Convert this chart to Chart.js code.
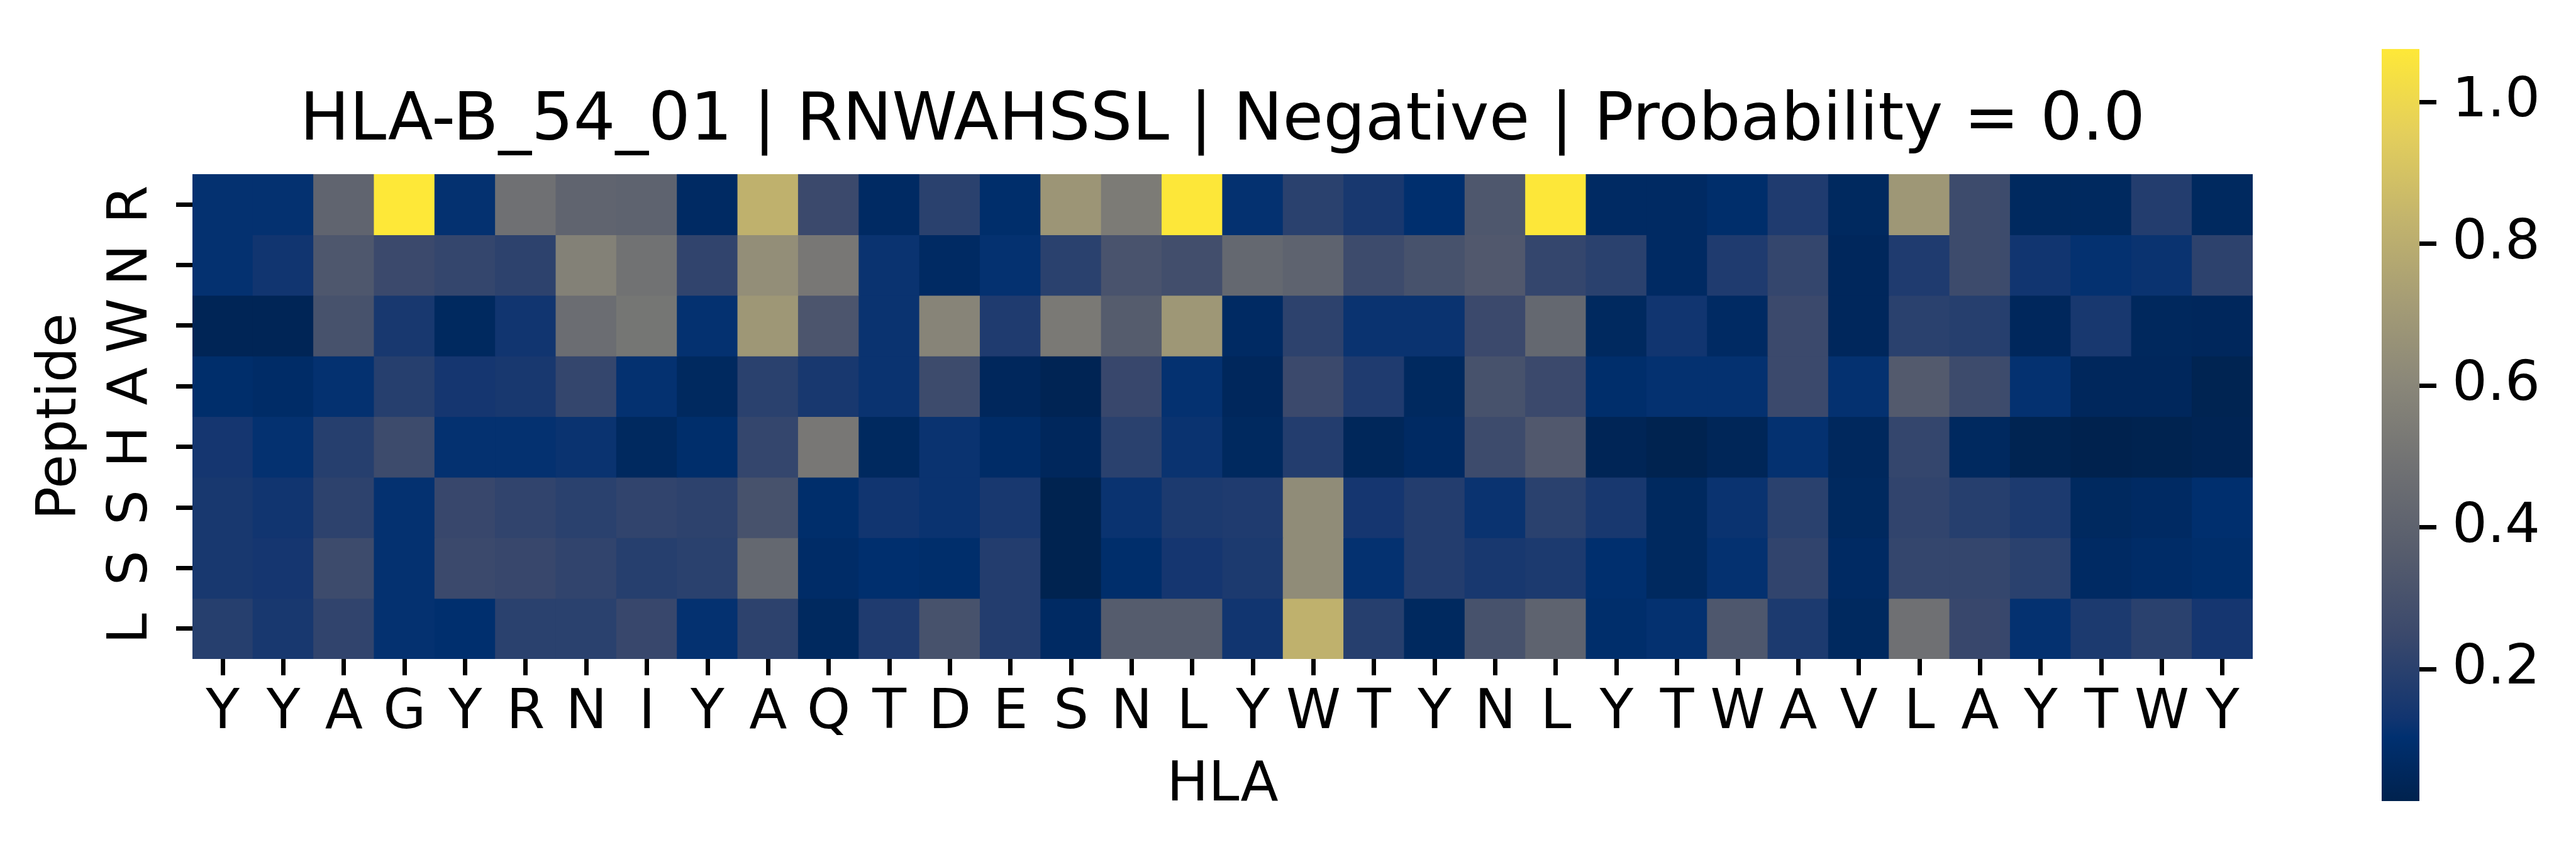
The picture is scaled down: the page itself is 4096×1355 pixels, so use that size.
<!DOCTYPE html>
<html>
<head>
<meta charset="utf-8">
<script src="https://cdn.jsdelivr.net/npm/chart.js@4.4.1/dist/chart.umd.min.js"></script>
<style>
  html, body { margin: 0; padding: 0; background: #fff; }
  #wrap { position: relative; width: 4096px; height: 1355px; overflow: hidden; }
  canvas { position: absolute; top: 0; }
  #heat { left: 0; }
  #cbar { left: 3787px; }
</style>
</head>
<body>
<div id="wrap">
  <canvas id="heat" width="4096" height="1355"></canvas>
  <canvas id="cbar" width="309" height="1355"></canvas>
</div>
<script>
const titleText = 'HLA-B_54_01 | RNWAHSSL | Negative | Probability = 0.0';

// x: HLA pseudo sequence, y: peptide
const hla = ['Y','Y','A','G','Y','R','N','I','Y','A','Q','T','D','E','S','N','L','Y','W','T','Y','N','L','Y','T','W','A','V','L','A','Y','T','W','Y'];
const peptide = ['R','N','W','A','H','S','S','L'];

// one array per peptide position (row), 34 values each
const rowR = [0.11,0.11,0.41,1.075,0.11,0.48,0.41,0.40,0.07, 0.82,0.25,0.07,0.20,0.09,0.68,0.54,1.07, 0.11,0.20,0.15,0.10,0.33,1.072,0.07,0.07,0.09, 0.17,0.06,0.69,0.26,0.06,0.06,0.18,0.06];
const rowN = [0.11,0.13,0.33,0.25,0.23,0.21,0.57,0.49,0.22, 0.64,0.52,0.12,0.07,0.11,0.20,0.31,0.28, 0.43,0.40,0.26,0.30,0.34,0.23,0.20,0.07,0.17, 0.23,0.05,0.17,0.26,0.13,0.11,0.12,0.21];
const rowW = [0.035,0.035,0.30,0.15,0.06,0.13,0.46,0.51,0.11, 0.69,0.32,0.12,0.59,0.17,0.53,0.36,0.69, 0.07,0.21,0.12,0.12,0.25,0.43,0.06,0.13,0.07, 0.25,0.05,0.20,0.19,0.05,0.15,0.055,0.05];
const rowA = [0.09,0.08,0.11,0.19,0.14,0.15,0.23,0.11,0.06, 0.20,0.15,0.12,0.26,0.05,0.03,0.24,0.11, 0.05,0.25,0.17,0.06,0.30,0.25,0.09,0.11,0.11, 0.25,0.11,0.35,0.26,0.11,0.05,0.05,0.025];
const rowH = [0.14,0.11,0.19,0.26,0.11,0.11,0.12,0.06,0.09, 0.23,0.52,0.06,0.12,0.08,0.05,0.20,0.12, 0.06,0.18,0.045,0.07,0.26,0.34,0.035,0.02,0.04, 0.11,0.055,0.23,0.06,0.025,0.014,0.02,0.03];
const rowS1 = [0.15,0.13,0.21,0.11,0.24,0.22,0.20,0.22,0.21, 0.30,0.09,0.13,0.12,0.15,0.02,0.12,0.16, 0.17,0.63,0.14,0.18,0.12,0.20,0.15,0.06,0.12, 0.20,0.06,0.22,0.19,0.16,0.06,0.07,0.10];
const rowS2 = [0.15,0.14,0.26,0.11,0.25,0.24,0.22,0.19,0.20, 0.43,0.08,0.10,0.09,0.18,0.02,0.09,0.14, 0.16,0.63,0.11,0.18,0.15,0.16,0.10,0.06,0.11, 0.22,0.07,0.23,0.23,0.20,0.07,0.08,0.09];
const rowL = [0.19,0.15,0.22,0.11,0.10,0.20,0.20,0.24,0.11, 0.21,0.06,0.17,0.30,0.18,0.07,0.36,0.36, 0.13,0.82,0.19,0.06,0.30,0.40,0.09,0.11,0.33, 0.16,0.06,0.48,0.24,0.11,0.16,0.20,0.14];

const colorbarTicks = [0.2, 0.4, 0.6, 0.8, 1.0];

const rows = [rowR, rowN, rowW, rowA, rowH, rowS1, rowS2, rowL];
const vmin = Math.min(...rows.flat());
const vmax = Math.max(...rows.flat());

// cividis colormap
const cividisStops = [
  [0.000, [0, 34, 78]],
  [0.045, [0, 41, 96]],
  [0.085, [0, 48, 112]],
  [0.111, [18, 53, 112]],
  [0.222, [59, 73, 108]],
  [0.333, [87, 93, 109]],
  [0.444, [112, 113, 115]],
  [0.556, [138, 135, 121]],
  [0.667, [166, 157, 117]],
  [0.778, [196, 181, 108]],
  [0.889, [228, 207, 91]],
  [1.000, [254, 232, 56]]
];

function cividis(t) {
  t = Math.max(0, Math.min(1, t));
  for (let i = 1; i < cividisStops.length; i++) {
    const [t1, c1] = cividisStops[i];
    if (t <= t1) {
      const [t0, c0] = cividisStops[i - 1];
      const f = (t - t0) / (t1 - t0);
      const c = c0.map((v, k) => Math.round(v + (c1[k] - v) * f));
      return `rgb(${c[0]},${c[1]},${c[2]})`;
    }
  }
  return 'rgb(254,232,56)';
}

const norm = v => (v - vmin) / (vmax - vmin);

Chart.defaults.font.family = 'DejaVu Sans';
Chart.defaults.color = '#000';
Chart.defaults.animation = false;

const tickFont = { size: 88 };

// heatmap: one floating bar dataset per row
new Chart(document.querySelector('#heat'), {
  type: 'bar',
  data: {
    labels: hla,
    datasets: rows.map((row, r) => ({
      label: peptide[r],
      data: row.map(() => [r, r + 1]),
      backgroundColor: row.map(v => cividis(norm(v))),
      borderWidth: 0,
      inflateAmount: 0.6,
      barPercentage: 1,
      categoryPercentage: 1,
      grouped: false
    }))
  },
  options: {
    responsive: false,
    layout: { padding: { left: 0, right: 514, top: 0, bottom: 0 } },
    plugins: {
      legend: { display: false },
      tooltip: { enabled: false },
      title: {
        display: true,
        text: titleText,
        fullSize: false,
        font: { size: 105, weight: 'normal' },
        padding: { top: 132, bottom: 19 }
      }
    },
    scales: {
      x: {
        type: 'category',
        border: { display: false },
        grid: { offset: false, drawOnChartArea: false, tickLength: 26, tickWidth: 7, tickColor: '#000' },
        ticks: { font: tickFont, padding: 8, autoSkip: false, maxRotation: 0 },
        title: { display: true, text: 'HLA', font: tickFont, padding: { top: 0, bottom: 52 } },
        afterFit: s => { s.height = 307; }
      },
      y: {
        type: 'linear',
        min: 0,
        max: peptide.length,
        reverse: true,
        border: { display: false },
        grid: { drawOnChartArea: false, tickLength: 26, tickWidth: 7, tickColor: '#000' },
        ticks: {
          font: tickFont, padding: 26, autoSkip: false,
          minRotation: 90, maxRotation: 90, crossAlign: 'center',
          callback: (v, i) => peptide[i]
        },
        afterBuildTicks: s => { s.ticks = peptide.map((p, i) => ({ value: i + 0.5 })); },
        title: { display: true, text: 'Peptide', font: tickFont, padding: { top: 44, bottom: 0 } },
        afterFit: s => { s.width = 306; }
      }
    }
  }
});

// colorbar
new Chart(document.querySelector('#cbar'), {
  type: 'bar',
  data: {
    labels: ['cbar'],
    datasets: [{
      data: [[vmin, vmax]],
      backgroundColor: ctx => {
        const chart = ctx.chart;
        if (!chart.chartArea) return cividis(0.5);
        const y = chart.scales.y;
        const g = chart.ctx.createLinearGradient(0, y.getPixelForValue(vmin), 0, y.getPixelForValue(vmax));
        cividisStops.forEach(([t]) => g.addColorStop(t, cividis(t)));
        return g;
      },
      borderWidth: 0,
      inflateAmount: 0,
      barPercentage: 1,
      categoryPercentage: 1
    }]
  },
  options: {
    responsive: false,
    layout: { padding: { left: 0, right: 0, top: 53, bottom: 81 } },
    plugins: { legend: { display: false }, tooltip: { enabled: false } },
    scales: {
      x: { display: false },
      y: {
        position: 'right',
        min: vmin,
        max: vmax,
        border: { display: false },
        grid: { drawOnChartArea: false, tickLength: 27, tickWidth: 7, tickColor: '#000' },
        ticks: { font: tickFont, padding: 25, callback: v => v.toFixed(1) },
        afterBuildTicks: s => { s.ticks = colorbarTicks.map(v => ({ value: v })); },
        afterFit: s => { s.width = 249; }
      }
    }
  }
});
</script>
</body>
</html>
